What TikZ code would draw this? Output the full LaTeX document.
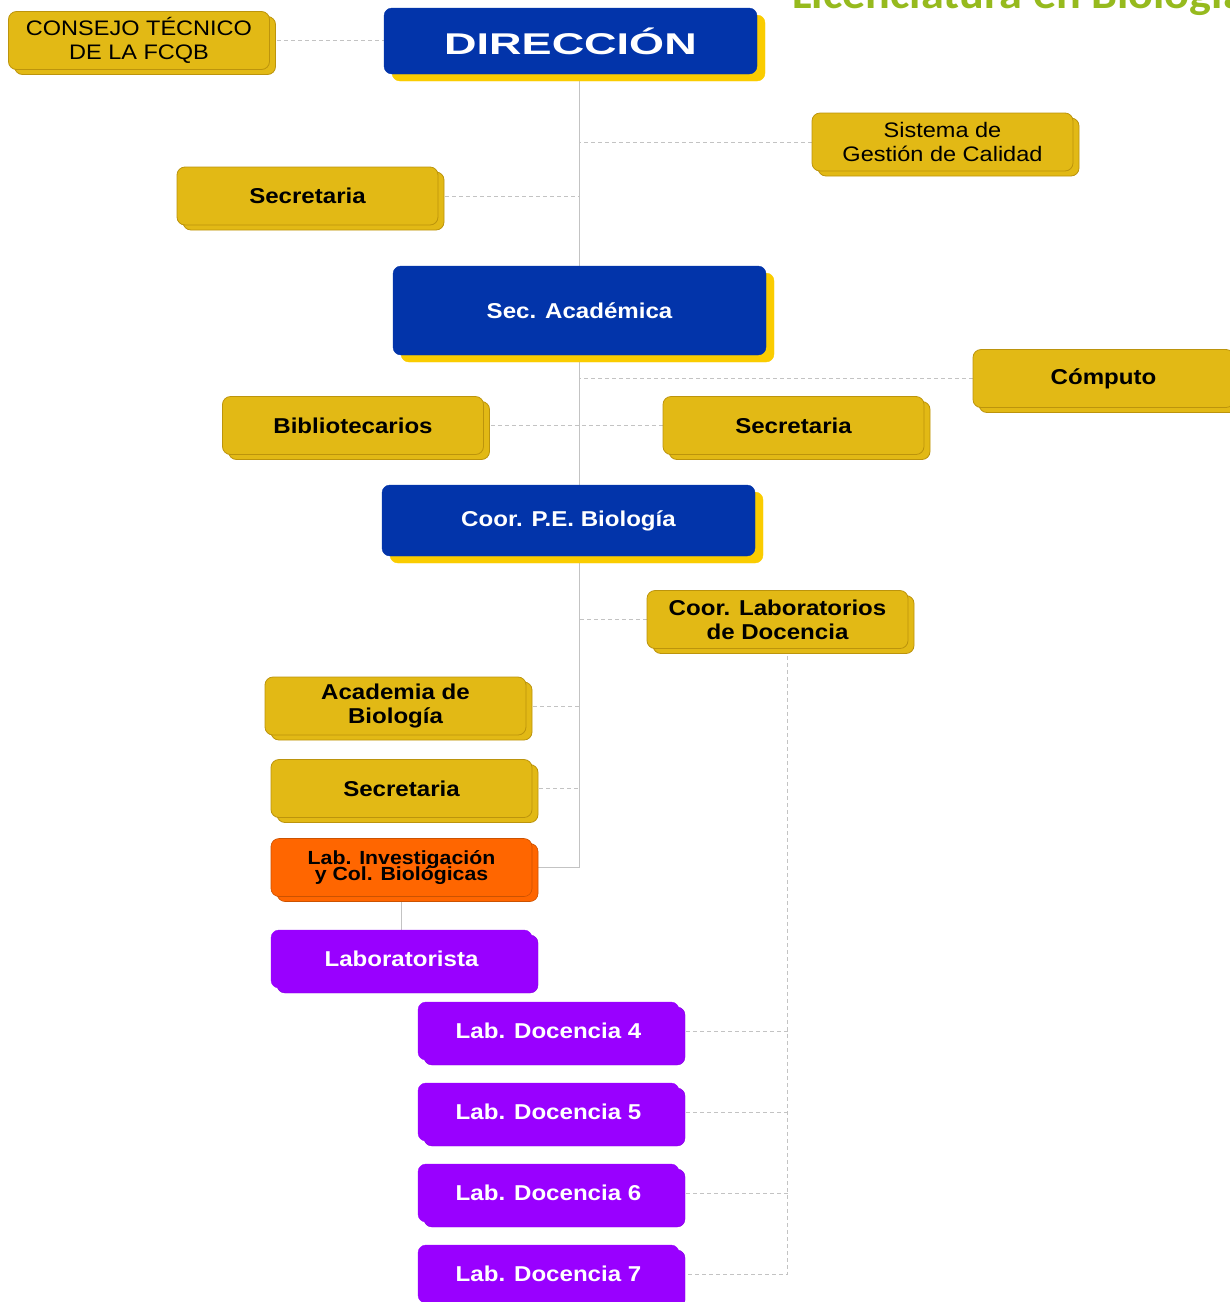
\documentclass[tikz,border=0pt]{standalone}
\usepackage{fontspec}
\setmainfont{Liberation Sans}[FakeStretch=1.12]
\newfontfamily\dirfont{Liberation Sans}[FakeStretch=1.5]
\newfontfamily\titlefont{Carlito}[FakeStretch=1.1]
\usetikzlibrary{shadows}

\pgfdeclarelayer{bg}
\pgfsetlayers{bg,main}

\newcommand\tightlines{\lineskiplimit=-20pt\relax}

\definecolor{gold}{RGB}{226,185,21}
\definecolor{golddark}{RGB}{188,148,12}
\definecolor{dirblue}{RGB}{2,52,170}
\definecolor{shadowyellow}{RGB}{250,204,0}
\definecolor{laborange}{RGB}{255,102,0}
\definecolor{labpurple}{RGB}{153,0,255}
\definecolor{linegray}{RGB}{195,195,195}
\definecolor{titlegreen}{RGB}{150,186,30}

\tikzset{
  orgbox/.style={rounded corners=8pt, minimum width=261pt, minimum height=58pt,
    inner sep=0pt, align=center, font=\bfseries\fontsize{21.5}{24}\selectfont},
  goldbox/.style={orgbox, fill=gold, draw=golddark, line width=0.8pt,
    general shadow={shadow xshift=6pt, shadow yshift=-5pt, fill=gold, draw=golddark}},
  plainbox/.style={goldbox, font=\fontsize{21}{24}\selectfont},
  bluebox/.style={orgbox, fill=dirblue, draw=dirblue, text=white, minimum width=373pt,
    general shadow={shadow xshift=8pt, shadow yshift=-7pt, fill=shadowyellow, draw=shadowyellow}},
  orangebox/.style={orgbox, fill=laborange, draw=laborange!80!black, line width=0.6pt,
    font=\bfseries\fontsize{19}{16}\selectfont\tightlines,
    general shadow={shadow xshift=6pt, shadow yshift=-5pt, fill=laborange, draw=laborange!80!black}},
  purplebox/.style={orgbox, fill=labpurple, draw=labpurple, text=white,
    general shadow={shadow xshift=6pt, shadow yshift=-5pt, fill=labpurple, draw=labpurple!85!black}},
  slidetitle/.style={text=titlegreen, inner sep=0pt, font=\titlefont\bfseries\fontsize{42}{44}\selectfont},
  dashline/.style={draw=linegray, line width=0.8pt, dash pattern=on 4pt off 3pt},
  trunk/.style={draw=linegray, line width=1pt}
}

\begin{document}
\begin{tikzpicture}[x=1pt,y=-1pt]
  \clip (0,0) rectangle (1230,1302);

  \node[slidetitle, anchor=base west] (title) at (792,8) {Licenciatura en Biología};

  % upper levels
  \node[plainbox] (consejo) at (139,40.5) {CONSEJO TÉCNICO\\DE LA FCQB};
  \node[bluebox, minimum height=66pt, font=\dirfont\bfseries\fontsize{30}{32}\selectfont] (dir) at (570.5,41) {DIRECCIÓN};
  \node[plainbox] (sgc) at (942.5,142) {Sistema de\\Gestión de Calidad};
  \node[goldbox] (secr1) at (307.5,196) {Secretaria};

  \node[bluebox, minimum height=89pt] (secacad) at (579.5,310.5) {Sec. Académica};
  \node[goldbox] (comp) at (1103.5,378.5) {Cómputo};
  \node[goldbox] (biblio) at (353,425.5) {Bibliotecarios};
  \node[goldbox] (secr2) at (793.5,425.5) {Secretaria};

  \node[bluebox, minimum height=71pt] (coorpe) at (568.5,520.5) {Coor. P.E. Biología};
  \node[goldbox] (coorlab) at (777.5,619.5) {Coor. Laboratorios\\de Docencia};
  \node[goldbox] (acad) at (395.5,706) {Academia de\\Biología};
  \node[goldbox] (secr3) at (401.5,788.5) {Secretaria};
  \node[orangebox] (labinv) at (401.5,867.5) {Lab. Investigación\\y Col. Biológicas};
  \node[purplebox] (labtista) at (401.5,959) {Laboratorista};

  % laboratorios de docencia
  \node[purplebox] (doc4) at (548.5,1031) {Lab. Docencia 4};
  \node[purplebox] (doc5) at (548.5,1112) {Lab. Docencia 5};
  \node[purplebox] (doc6) at (548.5,1193) {Lab. Docencia 6};
  \node[purplebox] (doc7) at (548.5,1274) {Lab. Docencia 7};

  \coordinate (labstem) at ([xshift=10pt]coorlab.south);

  \begin{pgfonlayer}{bg}
    \draw[dashline] (consejo.east) -- (consejo.east -| dir.west);
    \draw[trunk] (dir.south -| secacad.north) -- (secacad.north);
    \draw[dashline] (sgc.west) -- (sgc.west -| secacad.north);
    \draw[dashline] (secr1.east) -- (secr1.east -| secacad.north);

    \draw[trunk] (secacad.south) -- (secacad.south |- coorpe.north);
    \draw[dashline] (comp.west) -- (comp.west -| secacad.south);
    \draw[dashline] (biblio.east) -- (secr2.west);

    \draw[trunk] (secacad.south |- coorpe.south) |- (labinv.east);
    \draw[dashline] (coorlab.west) -- (coorlab.west -| secacad.south);
    \draw[dashline] (acad.east) -- (acad.east -| secacad.south);
    \draw[dashline] (secr3.east) -- (secr3.east -| secacad.south);
    \draw[trunk] (labinv.south) -- (labtista.north);

    \draw[dashline] (labstem) |- (doc7.east);
    \draw[dashline] (doc4.east) -- (doc4.east -| labstem);
    \draw[dashline] (doc5.east) -- (doc5.east -| labstem);
    \draw[dashline] (doc6.east) -- (doc6.east -| labstem);
  \end{pgfonlayer}
\end{tikzpicture}
\end{document}
